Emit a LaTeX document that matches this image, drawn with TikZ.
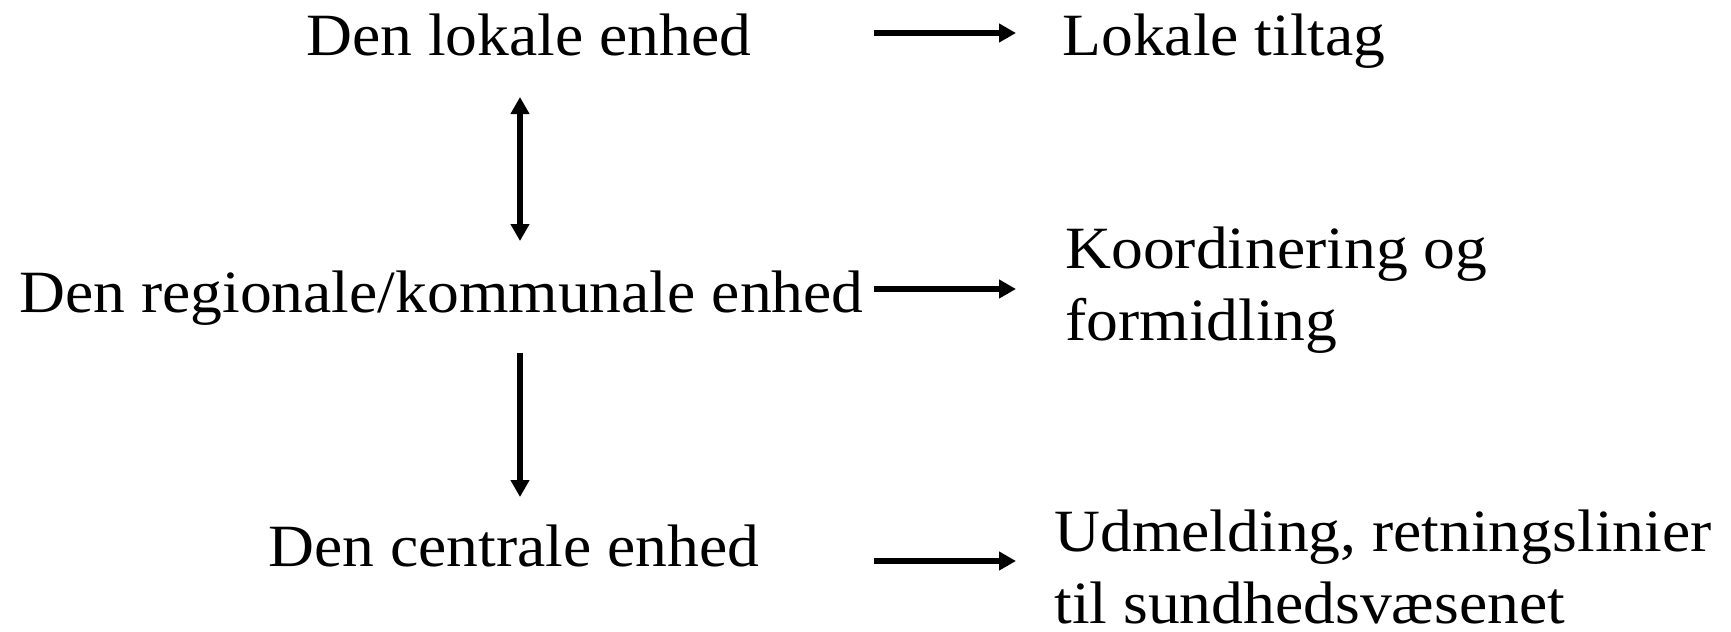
\documentclass[tikz,border=0pt]{standalone}
\usepackage{fontspec}
\setmainfont{Liberation Serif}[FakeStretch=1.06]
\usepackage{tikz}
\usetikzlibrary{arrows.meta}
\tikzstyle{lbl}=[inner sep=0pt, anchor=base west, font=\fontsize{30}{36}\selectfont]
\tikzstyle{pil}=[line width=3pt, -{Triangle[length=8.5pt,width=9pt]}]
\tikzstyle{dpil}=[line width=3pt, {Triangle[length=8.5pt,width=9pt]}-{Triangle[length=8.5pt,width=9pt]}]

\begin{document}
\begin{tikzpicture}[x=0.5pt,y=-0.5pt]
    \useasboundingbox (0,0) rectangle (1731,632);
    \node[lbl] (lokal) at (306,55) {Den lokale enhed};
    \node[lbl] (regional) at (19,312) {Den regionale/kommunale enhed};
    \node[lbl] (central) at (268,566) {Den centrale enhed};
    \node[lbl] (tiltag) at (1062,55) {Lokale tiltag};
    \node[lbl, align=left] (koord) at (1065,340) {Koordinering og\\formidling};
    \node[lbl, align=left] (udmeld) at (1054,623) {Udmelding, retningslinier\\til sundhedsv\ae senet};
    \coordinate (mid) at (520,0);
    \coordinate (colL) at (874,0);
    \coordinate (colR) at (1016,0);
    \draw[pil] ([yshift=11pt]lokal.base -| colL) -- ([yshift=11pt]lokal.base -| colR);
    \draw[pil] ([yshift=11.5pt]regional.base -| colL) -- ([yshift=11.5pt]regional.base -| colR);
    \draw[pil] ([yshift=2.5pt]central.base -| colL) -- ([yshift=2.5pt]central.base -| colR);
    \draw[dpil] ([yshift=-21pt]lokal.base -| mid) -- ([yshift=35.5pt]regional.base -| mid);
    \draw[pil] ([yshift=-20.5pt]regional.base -| mid) -- ([yshift=34.5pt]central.base -| mid);
\end{tikzpicture}
\end{document}
